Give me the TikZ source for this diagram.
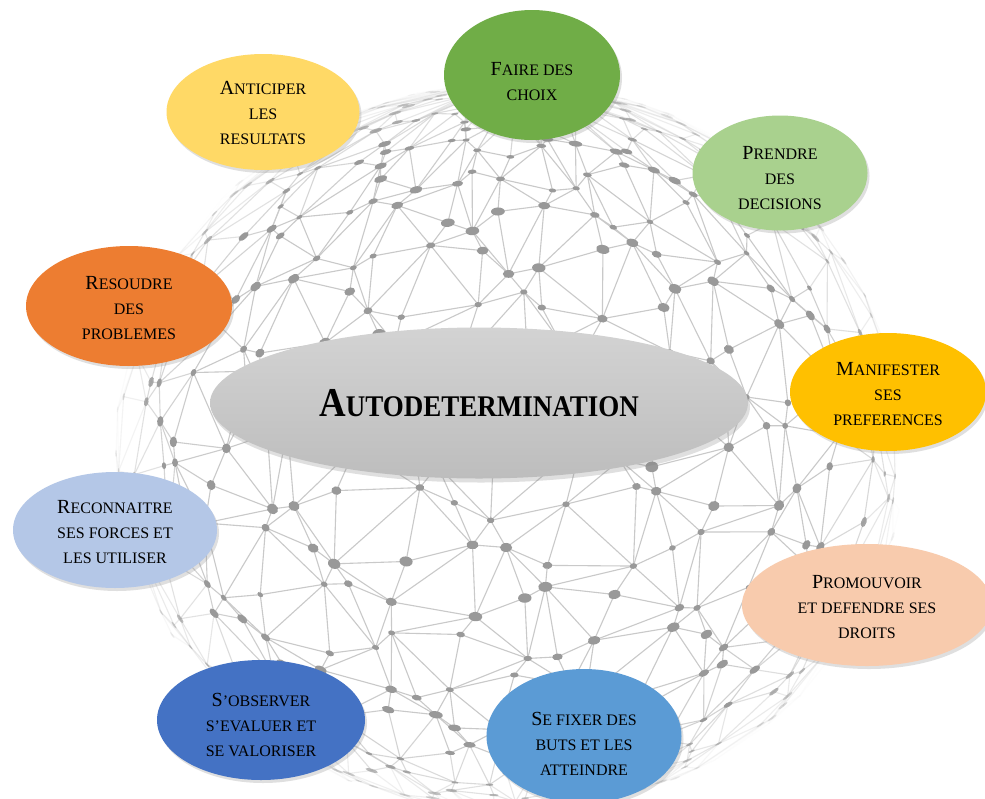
\documentclass[tikz,border=0pt]{standalone}
\usepackage{fontspec}
\setmainfont{Liberation Serif}
\newfontfamily\condfont[FakeStretch=0.9]{Liberation Serif}
\usetikzlibrary{shapes.geometric,shadows}
\definecolor{cYellow}{HTML}{FFD966}
\definecolor{cGreen}{HTML}{70AD47}
\definecolor{cLGreen}{HTML}{A9D18E}
\definecolor{cOrange}{HTML}{ED7D31}
\definecolor{cGold}{HTML}{FFC000}
\definecolor{cLBlue}{HTML}{B4C7E7}
\definecolor{cPeach}{HTML}{F8CBAD}
\definecolor{cBlue}{HTML}{4472C4}
\definecolor{cMBlue}{HTML}{5B9BD5}
\definecolor{cTop}{HTML}{D3D3D3}
\definecolor{cBot}{HTML}{BDBDBD}
\newcommand\BL[1]{{\fontsize{20}{25}\selectfont #1}}
\tikzset{
  bubble/.style={ellipse, inner sep=0pt,
    drop shadow={shadow xshift=2pt,shadow yshift=-3pt,opacity=0.25}},
  btext/.style={inner sep=0pt, align=center, text=black,
    font=\fontsize{16}{25}\selectfont},
  netline/.style={draw=black!21, line width=1.1pt},
  netdot/.style={fill=black!40},
}
\begin{document}
\begin{tikzpicture}[x=1pt,y=-1pt]
\fill[white] (0,0) rectangle (985,798);
\useasboundingbox (0,0) rectangle (985,798);
% ---- network sphere background ----
\def\NCX{510}\def\NCY{448}\def\NRX{395}\def\NRY{365}
\pgfmathsetmacro\nCt{cos(9)}
\pgfmathsetmacro\nSt{sin(9)}
\foreach \i in {0,...,20}{
  \foreach \j in {0,...,44}{
    \pgfmathsetmacro\nLa{-80+8*\i+2.6*sin(\i*137+\j*71)}
    \pgfmathsetmacro\nLo{8*\j+3*sin(\i*59+\j*113+20)}
    \pgfmathsetmacro\nXa{cos(\nLa)*sin(\nLo)}
    \pgfmathsetmacro\nYa{sin(\nLa)}
    \pgfmathsetmacro\nZa{cos(\nLa)*cos(\nLo)}
    \pgfmathsetmacro\nYb{\nYa*\nCt-\nZa*\nSt}
    \pgfmathsetmacro\nZb{\nYa*\nSt+\nZa*\nCt}
    \pgfmathsetmacro\nXX{\NCX+\NRX*\nXa}
    \pgfmathsetmacro\nYY{\NCY-\NRY*\nYb}
    \coordinate (p-\i-\j) at (\nXX,\nYY);
    \expandafter\xdef\csname pz-\i-\j\endcsname{\nZb}
    \expandafter\xdef\csname px-\i-\j\endcsname{\nXa}
    \expandafter\xdef\csname py-\i-\j\endcsname{\nYb}
  }
}
\foreach \i in {0,...,20}{
  \foreach \j in {0,...,44}{
    \pgfmathtruncatemacro\nJ{mod(\j+1,45)}
    \pgfmathtruncatemacro\nI{\i+1}
    \edef\zA{\csname pz-\i-\j\endcsname}
    \edef\zB{\csname pz-\i-\nJ\endcsname}
    \pgfmathsetmacro\zm{min(\zA,\zB)}
    \ifdim\zm pt>0pt
      \pgfmathsetmacro\nOp{min(1,1.8*\zm)}
      \draw[netline,opacity=\nOp] (p-\i-\j) -- (p-\i-\nJ);
    \fi
    \ifnum\i<20
      \edef\zC{\csname pz-\nI-\j\endcsname}
      \edef\zD{\csname pz-\nI-\nJ\endcsname}
      \pgfmathsetmacro\zm{min(\zA,\zC)}
      \ifdim\zm pt>0pt
        \pgfmathsetmacro\nOp{min(1,1.8*\zm)}
        \draw[netline,opacity=\nOp] (p-\i-\j) -- (p-\nI-\j);
      \fi
      \pgfmathtruncatemacro\nP{mod(\i*3+\j*7,5)}
      \ifnum\nP<3
        \pgfmathsetmacro\zm{min(\zA,\zD)}
        \ifdim\zm pt>0pt
          \pgfmathsetmacro\nOp{min(1,1.8*\zm)}
          \draw[netline,opacity=\nOp] (p-\i-\j) -- (p-\nI-\nJ);
        \fi
      \else
        \pgfmathsetmacro\zm{min(\zB,\zC)}
        \ifdim\zm pt>0pt
          \pgfmathsetmacro\nOp{min(1,1.8*\zm)}
          \draw[netline,opacity=\nOp] (p-\i-\nJ) -- (p-\nI-\j);
        \fi
      \fi
    \fi
  }
}
\foreach \i in {0,...,20}{
  \foreach \j in {0,...,44}{
    \edef\zA{\csname pz-\i-\j\endcsname}
    \ifdim\zA pt>0.03pt
      \edef\xA{\csname px-\i-\j\endcsname}
      \edef\yA{\csname py-\i-\j\endcsname}
      \pgfmathsetmacro\nR{4.1+1.3*sin(\i*97+\j*41)}
      \pgfmathsetmacro\nPhi{atan2(\NRY*\yA,\NRX*\xA+0.001)}
      \pgfmathsetmacro\nMin{\nR*max(\zA,0.2)}
      \pgfmathsetmacro\nOp{min(1,2.2*\zA)}
      \fill[netdot,opacity=\nOp,shift={(p-\i-\j)},xscale=1.3,rotate=\nPhi]
        (0,0) ellipse [x radius=\nMin pt, y radius=\nR pt];
    \fi
  }
}
% ---- bubbles ----
\node[ellipse, minimum width=538pt, minimum height=151pt, inner sep=0pt,
      top color=cTop, bottom color=cBot,
      drop shadow={shadow xshift=2pt,shadow yshift=-4pt,opacity=0.25},
      font=\condfont\bfseries\fontsize{30}{36}\selectfont]
  (auto) at (479,403) {{\fontsize{41}{45}\selectfont A}UTODETERMINATION};
\node[bubble, fill=cYellow, minimum width=193pt, minimum height=116pt] (antic) at (263,112) {};
\node[btext] (antic-t) at ([yshift=-1pt]antic.center) {\BL{A}NTICIPER\\LES\\RESULTATS};
\node[bubble, fill=cGreen, minimum width=176pt, minimum height=130pt] (choix) at (532,75) {};
\node[btext] (choix-t) at ([yshift=-7pt]choix.center) {\BL{F}AIRE DES\\CHOIX};
\node[bubble, fill=cLGreen, minimum width=175pt, minimum height=115pt] (decis) at (780,173) {};
\node[btext] (decis-t) at ([yshift=-5pt]decis.center) {\BL{P}RENDRE\\DES\\DECISIONS};
\node[bubble, fill=cOrange, minimum width=206pt, minimum height=120pt] (resou) at (129,306) {};
\node[btext] (resou-t) at ([yshift=-2pt]resou.center) {\BL{R}ESOUDRE\\DES\\PROBLEMES};
\node[bubble, fill=cGold, minimum width=196pt, minimum height=118pt] (manif) at (888,392) {};
\node[btext] (manif-t) at ([yshift=-2pt]manif.center) {\BL{M}ANIFESTER\\SES\\PREFERENCES};
\node[bubble, fill=cLBlue, minimum width=204pt, minimum height=116pt] (recon) at (115,530) {};
\node[btext] (recon-t) at ([yshift=-2pt]recon.center) {\BL{R}ECONNAITRE\\SES FORCES ET\\LES UTILISER};
\node[bubble, fill=cPeach, minimum width=250pt, minimum height=122pt] (promo) at (867,605) {};
\node[btext] (promo-t) at ([yshift=-2pt]promo.center) {\BL{P}ROMOUVOIR\\ET DEFENDRE SES\\DROITS};
\node[bubble, fill=cBlue, minimum width=208pt, minimum height=120pt] (obser) at (261,720) {};
\node[btext] (obser-t) at ([yshift=-5pt]obser.center) {\BL{S}’OBSERVER\\S’EVALUER ET\\SE VALORISER};
\node[bubble, fill=cMBlue, minimum width=195pt, minimum height=134pt] (fixer) at (584,736) {};
\node[btext] (fixer-t) at ([yshift=-8pt]fixer.center) {\BL{S}E FIXER DES\\BUTS ET LES\\ATTEINDRE};
\end{tikzpicture}
\end{document}
